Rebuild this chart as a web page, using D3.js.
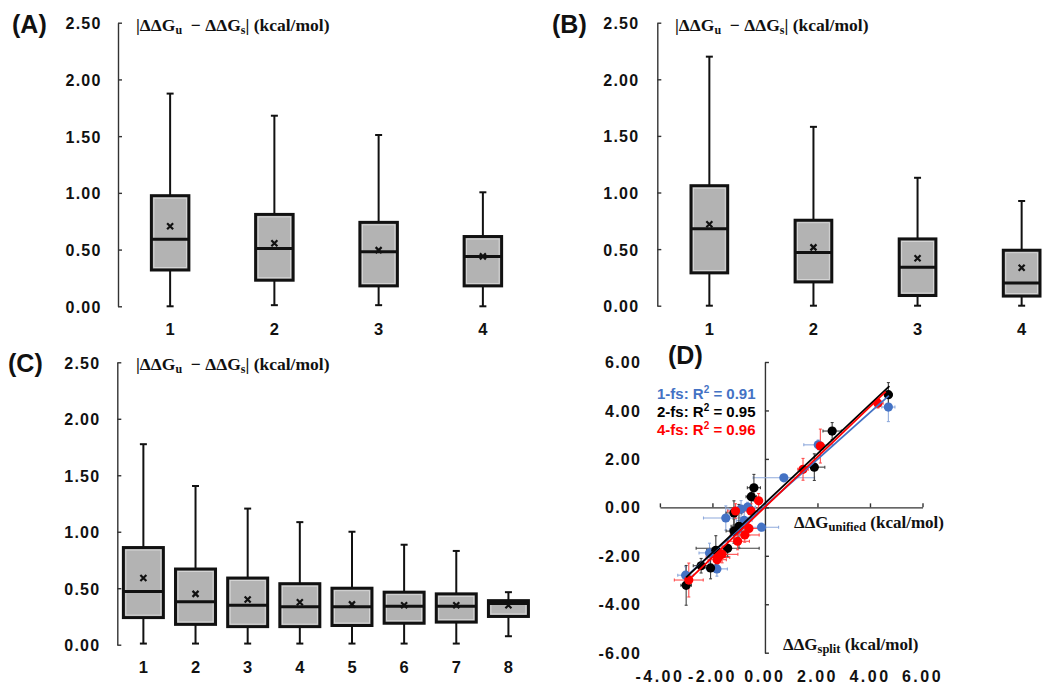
<!DOCTYPE html>
<html>
<head>
<meta charset="utf-8">
<script src="https://cdn.jsdelivr.net/npm/d3@7"></script>
<style>
  body { margin: 0; background: #fff; }
  svg text { font-family: "Liberation Sans", Arial, sans-serif; font-weight: bold; fill: #111; }
  svg text.serif { font-family: "Liberation Serif", "DejaVu Serif", serif; white-space: pre; }
</style>
</head>
<body>
<svg width="1050" height="691"></svg>
<script>
// ---- data ----
// box stats: [low whisker, q1, median, q3, high whisker, mean]
const catsAB = ["1", "2", "3", "4"];
const catsC = ["1", "2", "3", "4", "5", "6", "7", "8"];
const boxA = [
  [0.00, 0.32, 0.59, 0.975, 1.875, 0.705],
  [0.01, 0.23, 0.51, 0.81, 1.68, 0.555],
  [0.01, 0.18, 0.48, 0.74, 1.51, 0.495],
  [0.00, 0.18, 0.44, 0.615, 1.005, 0.44]
];
const boxB = [
  [0.00, 0.29, 0.68, 1.06, 2.20, 0.72],
  [0.00, 0.21, 0.47, 0.755, 1.58, 0.515],
  [0.00, 0.09, 0.34, 0.59, 1.13, 0.42],
  [0.00, 0.085, 0.20, 0.49, 0.925, 0.335]
];
const boxC = [
  [0.01, 0.24, 0.47, 0.86, 1.775, 0.59],
  [0.01, 0.18, 0.38, 0.67, 1.405, 0.45],
  [0.01, 0.16, 0.35, 0.59, 1.205, 0.40],
  [0.01, 0.16, 0.335, 0.54, 1.085, 0.375],
  [0.01, 0.17, 0.335, 0.50, 1.00, 0.357],
  [0.01, 0.19, 0.34, 0.465, 0.885, 0.35],
  [0.01, 0.20, 0.34, 0.45, 0.83, 0.35],
  [0.075, 0.25, 0.365, 0.39, 0.465, 0.35]
];
const boxTicks = [0, 0.5, 1, 1.5, 2, 2.5];

// panel D: [ddG unified, ddG split, x error, y error]
const fs1 = [
  [4.70, 4.14, 0.25, 0.60], [2.03, 2.58, 0.55, 0.20], [0.72, 1.22, 1.17, 0.10],
  [-0.66, 0.01, 0.30, 0.20], [-0.91, -0.07, 0.50, 0.35], [-1.49, -0.44, 0.85, 0.50],
  [-0.13, -0.82, 0.65, 0.15], [-0.79, -0.54, 0.30, 0.40], [-1.05, -0.92, 0.30, 0.30],
  [-2.11, -1.88, 0.40, 0.40], [-1.83, -2.54, 0.40, 0.30], [-3.02, -2.80, 0.30, 0.35]
];
const fs2 = [
  [4.70, 4.65, 0.15, 0.50], [2.56, 3.15, 0.35, 0.35], [1.88, 1.66, 0.40, 0.55],
  [-0.42, 0.81, 0.25, 0.55], [-0.52, 0.44, 0.20, 0.40], [-1.18, -0.23, 0.30, 0.50],
  [-0.99, -0.78, 0.30, 0.90], [-1.18, -0.98, 0.30, 0.50], [-1.42, -1.69, 1.20, 0.35],
  [-1.87, -1.77, 0.35, 0.60], [-2.43, -2.41, 0.30, 0.30], [-2.07, -2.50, 0.30, 0.45],
  [-3.00, -3.22, 0.20, 0.82]
];
const fs4 = [
  [4.30, 4.30, 0.20, 0.20], [2.11, 2.53, 0.15, 0.70], [1.45, 1.57, 0.20, 0.45],
  [-0.24, 0.27, 0.15, 0.30], [-0.53, -0.15, 0.25, 0.30], [-1.12, -0.15, 0.30, 0.30],
  [-0.61, -0.87, 0.45, 0.30], [-0.77, -1.14, 0.55, 0.30], [-1.04, -1.40, 0.45, 0.35],
  [-1.63, -1.94, 0.60, 0.35], [-1.79, -2.07, 0.45, 0.40], [-1.82, -2.16, 0.35, 0.30],
  [-2.90, -3.00, 0.55, 0.70]
];
const seriesNames = ["1-fs", "2-fs", "4-fs"];
const r2Values = ["0.91", "0.95", "0.96"];
const fitSlope = [0.967, 1.02, 1.037];
const fitIntercept = [0.05, 0.17, 0.01];
const fitFrom = [-3.02, -3.00, -2.98];
const fitTo = [4.72, 4.74, 4.60];
const dTicks = [-6, -4, -2, 0, 2, 4, 6];
const dXTicks = [-4, -2, 0, 2, 4, 6];

const svg = d3.select("svg");
const fmt = d => d3.format(".2f")(d).replace("\u2212", "-");

// ---- box plot panels ----
function boxPanel(stats, cats, o) {
  const x = d3.scaleBand(cats, [o.x0, o.x1]);
  const y = d3.scaleLinear([0, 2.5], [o.yb, o.yt]);
  const g = svg.append("g");

  g.append("g")
    .attr("transform", `translate(${o.x0},0)`)
    .call(d3.axisLeft(y).tickValues(boxTicks).tickFormat(fmt)
      .tickSizeInner(-4).tickSizeOuter(0).tickPadding(o.pad))
    .call(a => {
      a.attr("font-family", null).attr("font-size", null);
      a.select(".domain").attr("stroke", "#333").attr("stroke-width", 1.4);
      a.selectAll(".tick line").attr("stroke", "#333").attr("stroke-width", 1.4);
      a.selectAll(".tick text").style("font-size", "16px").style("letter-spacing", "1.2px").attr("dy", "0.38em");
    });

  const b = g.selectAll(".box").data(stats).enter().append("g")
    .attr("transform", (d, i) => `translate(${x(cats[i]) + x.bandwidth() / 2},0)`);
  const w = o.bw, cap = 3.5;

  b.append("line").attr("y1", d => y(d[4])).attr("y2", d => y(d[3]))
    .attr("stroke", "#111").attr("stroke-width", 2);
  b.append("line").attr("y1", d => y(d[0])).attr("y2", d => y(d[1]))
    .attr("stroke", "#111").attr("stroke-width", 2);
  b.append("line").attr("x1", -cap).attr("x2", cap).attr("y1", d => y(d[4])).attr("y2", d => y(d[4]))
    .attr("stroke", "#111").attr("stroke-width", 2);
  b.append("line").attr("x1", -cap).attr("x2", cap).attr("y1", d => y(d[0])).attr("y2", d => y(d[0]))
    .attr("stroke", "#111").attr("stroke-width", 2);
  b.append("rect").attr("x", -w / 2).attr("width", w)
    .attr("y", d => y(d[3])).attr("height", d => y(d[1]) - y(d[3]))
    .attr("fill", "#b3b3b3").attr("stroke", "#111").attr("stroke-width", 3);
  b.append("rect").attr("x", -w / 2 + 2.5).attr("width", w - 5)
    .attr("y", d => y(d[3]) + 2.5).attr("height", d => Math.max(0, y(d[1]) - y(d[3]) - 5))
    .attr("fill", "none").attr("stroke", "#dcdcdc").attr("stroke-width", 0.8);
  b.append("line").attr("x1", -w / 2).attr("x2", w / 2)
    .attr("y1", d => y(d[2])).attr("y2", d => y(d[2]))
    .attr("stroke", "#111").attr("stroke-width", 3);
  b.append("path")
    .attr("d", d => { const m = y(d[5]), s = 3; return `M${-s},${m - s}L${s},${m + s}M${-s},${m + s}L${s},${m - s}`; })
    .attr("stroke", "#111").attr("stroke-width", 2.2);

  g.selectAll(".cat").data(cats).enter().append("text")
    .attr("x", d => x(d) + x.bandwidth() / 2).attr("y", o.catY)
    .attr("text-anchor", "middle").style("font-size", "16.5px").text(d => d);

  g.append("text").attr("x", o.lx).attr("y", o.ly).style("font-size", "25px").text(o.label);

  const t = g.append("text").attr("class", "serif").attr("x", o.tx).attr("y", o.ty).style("font-size", "17.5px");
  t.append("tspan").text("|ΔΔG");
  t.append("tspan").attr("dy", 3).style("font-size", "12px").text("u");
  t.append("tspan").attr("dy", -3).text("  − ΔΔG");
  t.append("tspan").attr("dy", 3).style("font-size", "12px").text("s");
  t.append("tspan").attr("dy", -3).text("| (kcal/mol)");
}

boxPanel(boxA, catsAB, { x0: 118, x1: 535, yb: 306.3, yt: 22.7, bw: 37.5, pad: 16.5,
  catY: 335, lx: 12, ly: 33, label: "(A)", tx: 136, ty: 31 });
boxPanel(boxB, catsAB, { x0: 657.3, x1: 1073.7, yb: 305.7, yt: 22.7, bw: 36.7, pad: 18,
  catY: 335, lx: 552, ly: 33, label: "(B)", tx: 675, ty: 31 });
boxPanel(boxC, catsC, { x0: 117.3, x1: 534.5, yb: 644.7, yt: 362.3, bw: 40, pad: 17,
  catY: 673, lx: 8, ly: 372, label: "(C)", tx: 136, ty: 370 });

// ---- panel D: scatter with error bars ----
const dx = d3.scaleLinear([-4, 6], [659.9, 922.5]);
const dy = d3.scaleLinear([-6, 6], [652.7, 362]);
const colors = ["#4472c4", "#000000", "#ff0000"];
const errColors = ["#8faadc", "#404040", "#ff4d4d"];
const series = [fs1, fs2, fs4];
const gD = svg.append("g");

gD.append("g").attr("transform", `translate(0,${dy(0)})`)
  .call(d3.axisTop(dx).tickValues(dXTicks).tickFormat("").tickSizeInner(4).tickSizeOuter(0))
  .call(a => { a.selectAll("path,line").attr("stroke", "#333").attr("stroke-width", 1.4); });
gD.append("g").attr("transform", `translate(${dx(0)},0)`)
  .call(d3.axisRight(dy).tickValues(dTicks).tickFormat("").tickSizeInner(4).tickSizeOuter(0))
  .call(a => { a.selectAll("path,line").attr("stroke", "#333").attr("stroke-width", 1.4); });

gD.selectAll(".yl").data(dTicks).enter().append("text")
  .attr("x", 641).attr("y", d => dy(d)).attr("dy", "0.38em").attr("text-anchor", "end")
  .style("font-size", "16px").style("letter-spacing", "1.2px").text(fmt);
gD.selectAll(".xl").data(dXTicks).enter().append("text")
  .attr("x", d => dx(d)).attr("y", 682).attr("text-anchor", "middle")
  .style("font-size", "16px").style("letter-spacing", "2.5px").text(fmt);

series.forEach((s, k) => {
  const eg = gD.append("g").attr("stroke", errColors[k]).attr("stroke-width", 1.1);
  s.forEach(p => {
    const cx = dx(p[0]), cy = dy(p[1]);
    const xa = dx(p[0] - p[2]), xb = dx(p[0] + p[2]), ya = dy(p[1] + p[3]), yb = dy(p[1] - p[3]);
    eg.append("line").attr("x1", xa).attr("x2", xb).attr("y1", cy).attr("y2", cy);
    eg.append("line").attr("x1", cx).attr("x2", cx).attr("y1", ya).attr("y2", yb);
    [xa, xb].forEach(v => eg.append("line").attr("x1", v).attr("x2", v).attr("y1", cy - 1.5).attr("y2", cy + 1.5));
    [ya, yb].forEach(v => eg.append("line").attr("x1", cx - 1.5).attr("x2", cx + 1.5).attr("y1", v).attr("y2", v));
  });
});
series.forEach((s, k) => {
  gD.append("g").selectAll("circle").data(s).enter().append("circle")
    .attr("cx", d => dx(d[0])).attr("cy", d => dy(d[1])).attr("r", 4.6).attr("fill", colors[k]);
});
series.forEach((s, k) => {
  gD.append("line")
    .attr("x1", dx(fitFrom[k])).attr("y1", dy(fitSlope[k] * fitFrom[k] + fitIntercept[k]))
    .attr("x2", dx(fitTo[k])).attr("y2", dy(fitSlope[k] * fitTo[k] + fitIntercept[k]))
    .attr("stroke", colors[k]).attr("stroke-width", 1.8);
});

// legend text
seriesNames.forEach((n, k) => {
  const t = gD.append("text").attr("x", 657).attr("y", 398.5 + k * 18.3)
    .style("font-size", "15px").style("fill", colors[k]);
  t.append("tspan").text(`${n}: R`);
  t.append("tspan").attr("dy", -6).style("font-size", "10px").text("2");
  t.append("tspan").attr("dy", 6).text(` = ${r2Values[k]}`);
});

const xt = gD.append("text").attr("class", "serif").attr("x", 794).attr("y", 528).style("font-size", "17px");
xt.append("tspan").text("ΔΔG");
xt.append("tspan").attr("dy", 3).style("font-size", "12.5px").text("unified");
xt.append("tspan").attr("dy", -3).text(" (kcal/mol)");
const yt = gD.append("text").attr("class", "serif").attr("x", 783).attr("y", 650).style("font-size", "17px");
yt.append("tspan").text("ΔΔG");
yt.append("tspan").attr("dy", 3).style("font-size", "12.5px").text("split");
yt.append("tspan").attr("dy", -3).text(" (kcal/mol)");

gD.append("text").attr("x", 668).attr("y", 364).style("font-size", "25px").text("(D)");
</script>
</body>
</html>
